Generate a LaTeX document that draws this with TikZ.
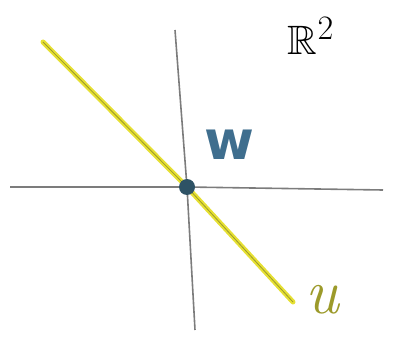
\documentclass[tikz,border=0pt]{standalone}
\usepackage{amsmath, amssymb}
\usepackage{fontspec}
\setsansfont{DejaVu Sans}
\definecolor{axisgray}{HTML}{7C7C7C}
\definecolor{lineyellow}{HTML}{E6E033}
\definecolor{labelolive}{HTML}{9C9A2A}
\definecolor{wblue}{HTML}{3F6E8E}
\definecolor{dotteal}{HTML}{2E5265}
\tikzset{
    axis/.style={axisgray, line width=1.6pt},
    span/.style={lineyellow, line width=5pt, line cap=round},
    hand/.style={font=\sffamily\bfseries\fontsize{54}{54}\selectfont, inner sep=0pt}
}

\begin{document}
\begin{tikzpicture}[x=1pt, y=-1pt]
        \useasboundingbox (0,0) rectangle (393,339);
        \coordinate (O) at (187,187);
        \coordinate (L) at (10,187);
        \coordinate (R) at (383,190);
        \coordinate (T) at (175,30);
        \coordinate (B) at (195,330);
        \coordinate (P) at (43,42);
        \coordinate (Q) at (293,302);
        \draw[axis] (L) -- (O) -- (R);
        \draw[axis] (T) -- (O) -- (B);
        \draw[span] (P) -- (O) -- (Q);
        \draw[labelolive, line width=0.8pt] (P) -- (O) -- (Q);
        \fill[dotteal] (O) circle (8pt);
        \node[hand, wblue] (w) at (229,145) {w};
        \node[hand, labelolive, font=\itshape\fontsize{64}{64}\selectfont] (u) at (322,300) {u};
        \node[inner sep=0pt, font=\Huge, scale=1.65] (space) at (311,36) {$\mathbb{R}^2$};
    \end{tikzpicture}
\end{document}
